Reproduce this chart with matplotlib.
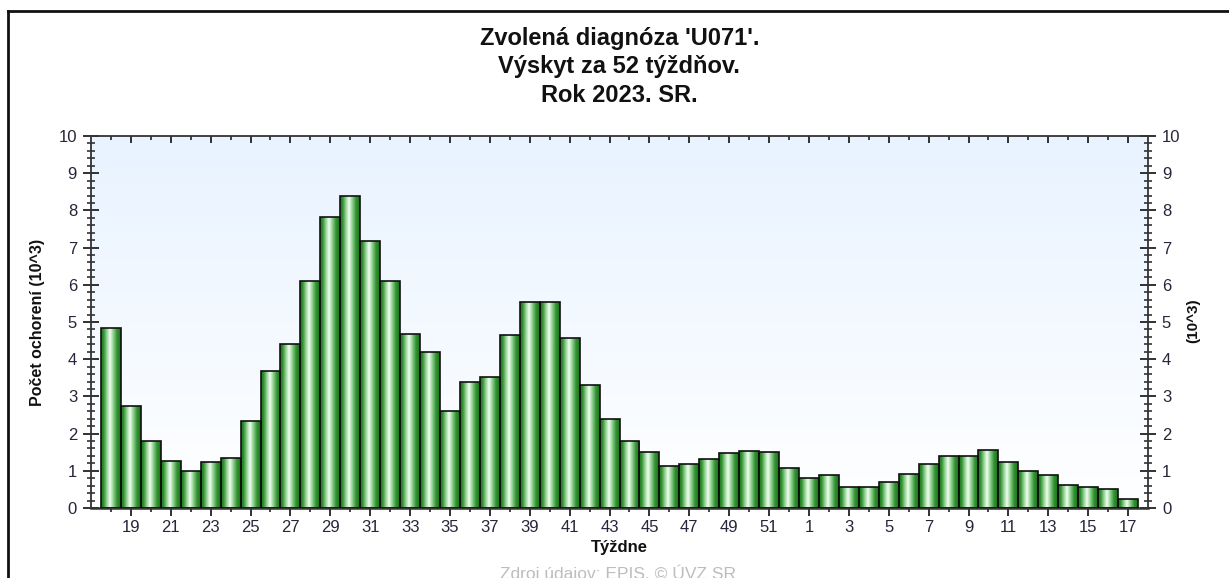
import matplotlib
matplotlib.use("Agg")
import matplotlib.pyplot as plt
import matplotlib.lines as mlines
import numpy as np
from matplotlib.colors import LinearSegmentedColormap
from matplotlib.ticker import MultipleLocator, FixedLocator

plt.rcParams['font.family'] = ['Liberation Sans', 'DejaVu Sans']

weeks = list(range(18, 53)) + list(range(1, 18))
cases = [4.85, 2.73, 1.80, 1.27, 1.00, 1.23, 1.34, 2.34, 3.69, 4.42,
         6.11, 7.81, 8.38, 7.19, 6.11, 4.69, 4.19, 2.61, 3.38, 3.51,
         4.65, 5.54, 5.54, 4.58, 3.31, 2.38, 1.81, 1.50, 1.14, 1.19,
         1.31, 1.47, 1.54, 1.50, 1.07, 0.80, 0.89, 0.57, 0.57, 0.70,
         0.92, 1.19, 1.41, 1.41, 1.57, 1.23, 1.00, 0.89, 0.61, 0.57,
         0.50, 0.23]
title = "Zvolená diagnóza 'U071'.\nVýskyt za 52 týždňov.\nRok 2023. SR."
ylabel = "Počet ochorení (10^3)"
ylabel_right = "(10^3)"
xlabel = "Týždne"
footer = "Zdroj údajov: EPIS, © ÚVZ SR"

W, H = 1229, 578
fig = plt.figure(figsize=(W / 100, H / 100), dpi=100)
ax = fig.add_axes([91 / W, (H - 508) / H, (1148 - 91) / W, (508 - 136) / H])

x = np.arange(len(weeks))

# background gradient
bg = LinearSegmentedColormap.from_list('bg', ['#ffffff', '#e8f3ff'])
grad = np.linspace(0, 1, 256).reshape(-1, 1)
ax.imshow(grad, cmap=bg, aspect='auto', extent=[0, 1, 0, 1],
          transform=ax.transAxes, origin='lower', zorder=0)

# bars with cylindrical gradient
barcmap = LinearSegmentedColormap.from_list(
    'bar', [(0.0, '#1a761a'), (0.12, '#2f8f2f'), (0.3, '#98d498'),
            (0.45, '#f2fff2'), (0.58, '#a6dca6'), (0.8, '#349634'),
            (1.0, '#1a701a')])
hgrad = np.linspace(0, 1, 64).reshape(1, -1)
bars = ax.bar(x, cases, width=1.0, facecolor='none', edgecolor='#101010',
              linewidth=1.2, zorder=3)
for b in bars:
    x0, y0 = b.get_x(), b.get_y()
    im = ax.imshow(hgrad, cmap=barcmap, aspect='auto',
                   extent=[x0, x0 + b.get_width(), y0, y0 + b.get_height()],
                   zorder=2, interpolation='bilinear')
    im.set_clip_path(b)

ax.set_xlim(-1, len(weeks))
ax.set_ylim(0, 10)

# ticks
major_idx = [i for i in x if i % 2 == 1]
ax.xaxis.set_major_locator(FixedLocator(major_idx))
ax.xaxis.set_minor_locator(FixedLocator(list(x)))
ax.set_xticklabels([str(weeks[i]) for i in major_idx])
ax.yaxis.set_major_locator(MultipleLocator(1))
ax.yaxis.set_minor_locator(MultipleLocator(0.2))

tc = '#26263a'
ax.tick_params(axis='x', which='major', direction='out', length=6, width=1.3,
               colors='#222222', labelcolor=tc, labelsize=12, pad=3,
               top=True)
ax.tick_params(axis='x', which='minor', direction='out', length=3, width=1.2,
               colors='#222222', top=True)
ax.tick_params(axis='y', which='major', direction='inout', length=12, width=1.3,
               colors='#222222', labelcolor=tc, labelsize=12, pad=4,
               left=True, right=True, labelleft=True, labelright=True)
ax.tick_params(axis='y', which='minor', direction='inout', length=6, width=1.1,
               colors='#222222', left=True, right=True)
# top ticks point inward
for tk in ax.xaxis.get_major_ticks():
    tk.tick2line.set_marker(mlines.TICKDOWN)
    tk.tick2line.set_markersize(5)
for tk in ax.xaxis.get_minor_ticks():
    tk.tick2line.set_marker(mlines.TICKDOWN)
    tk.tick2line.set_markersize(3)

for s in ax.spines.values():
    s.set_color('#333333')
    s.set_linewidth(1.3)
ax.spines['bottom'].set_linewidth(1.8)

ax.set_ylabel(ylabel, fontsize=11.5, fontweight='bold', labelpad=10, color='#111111')
fig.text(1193 / W, 1 - 321 / H, ylabel_right, rotation=90, ha='center',
         va='center', fontsize=11, fontweight='bold', color='#111111')
ax.set_xlabel(xlabel, fontsize=12, fontweight='bold', labelpad=3, color='#111111')

fig.text(0.504, 1 - 67 / H, title, ha='center', va='center', fontsize=17,
         fontweight='bold', linespacing=1.32, color='#111111')
fig.text(618 / W, 1 - 565 / H, footer, ha='center', va='top', fontsize=12.5,
         color='#bdbdbd')

# figure frame (top and left)
fig.add_artist(plt.Line2D([8 / W, 1], [1 - 10.5 / H, 1 - 10.5 / H],
                          transform=fig.transFigure, color='#111111', lw=2))
fig.add_artist(plt.Line2D([8 / W, 8 / W], [0, 1 - 10.5 / H],
                          transform=fig.transFigure, color='#111111', lw=2))

fig.savefig('out.png', dpi=100)
